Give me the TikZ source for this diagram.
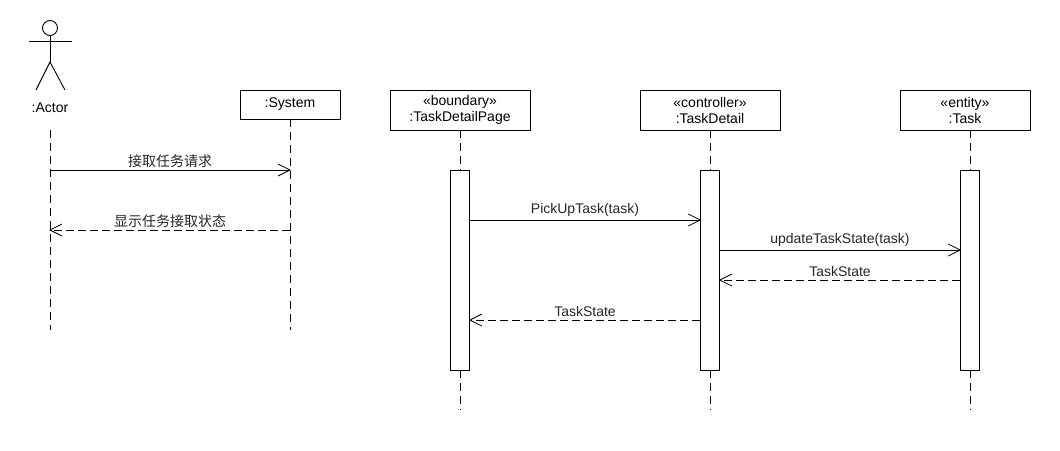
\documentclass[tikz,border=0pt]{standalone}
\usepackage{fontspec}
\setmainfont{Liberation Sans}
\newfontfamily\cjk{Noto Sans CJK SC}
\usetikzlibrary{arrows.meta}
\tikzset{
    objbox/.style={draw=black,fill=white,line width=0.9pt,align=center,font=\fontsize{14}{16}\selectfont,inner sep=0pt,minimum height=#1},
    objbox/.default=40pt,
    actbox/.style={draw=black,fill=white,line width=0.9pt,minimum width=19pt,minimum height=200pt,inner sep=0pt},
    lifeline/.style={line width=0.8pt,dash pattern=on 8pt off 5pt},
    callmsg/.style={line width=0.9pt,shorten >=-1pt,-{Straight Barb[length=12pt,width=12pt,line width=0.8pt]}},
    backmsg/.style={line width=0.9pt,shorten >=-1pt,dash pattern=on 8pt off 4pt,-{Straight Barb[length=12pt,width=12pt,line width=0.8pt]}},
    msgtext/.style={font=\fontsize{14}{16}\selectfont,text=black!85,inner sep=0pt},
}
\begin{document}
\begin{tikzpicture}[x=1pt,y=-1pt]
    \useasboundingbox (0,0) rectangle (1060,450);
    % actor
    \node[draw=black,circle,line width=0.9pt,minimum size=15pt,inner sep=0pt] (head) at (50,28) {};
    \coordinate (hip) at (50,62);
    \coordinate (armL) at (29,41);
    \coordinate (armR) at (72,41);
    \coordinate (footL) at (36,90);
    \coordinate (footR) at (65,90);
    \draw[line width=0.9pt] (head) -- (hip);
    \draw[line width=0.9pt] (armL) -- (armR);
    \draw[line width=0.9pt] (footL) -- (hip) -- (footR);
    \node[font=\fontsize{14}{16}\selectfont,inner sep=0pt] (actor) at (50,108) {:Actor};
    % objects
    \node[objbox=29pt,minimum width=100pt] (system) at (290,104.5) {:System};
    \node[objbox,minimum width=140pt] (page) at (460,110) {«boundary»\\:TaskDetailPage};
    \node[objbox,minimum width=140pt] (detail) at (710,110) {«controller»\\:TaskDetail};
    \node[objbox,minimum width=130pt] (task) at (965,110) {«entity»\\:Task};
    % activations
    \node[actbox] (pageact) at (460,270) {};
    \node[actbox] (detailact) at (710,270) {};
    \node[actbox] (taskact) at (970,270) {};
    % lifelines
    \coordinate (actorstart) at (50,130);
    \coordinate (actorend) at (50,330);
    \coordinate (sysend) at (290,330);
    \coordinate (pageend) at (460,410);
    \coordinate (detailend) at (710,410);
    \coordinate (taskend) at (970,410);
    \coordinate (tasktop) at (970,130);
    \draw[lifeline] (actorstart) -- (actorend);
    \draw[lifeline] (system) -- (sysend);
    \draw[lifeline] (page) -- (pageact);
    \draw[lifeline] (pageact) -- (pageend);
    \draw[lifeline] (detail) -- (detailact);
    \draw[lifeline] (detailact) -- (detailend);
    \draw[lifeline] (tasktop) -- (taskact);
    \draw[lifeline] (taskact) -- (taskend);
    % message ends
    \coordinate (m1a) at (50,170);
    \coordinate (m1b) at (290,170);
    \coordinate (m2a) at (290,230);
    \coordinate (m2b) at (50,230);
    \coordinate (m3a) at (pageact.east |- 0,220);
    \coordinate (m3b) at (detailact.west |- 0,220);
    \coordinate (m4a) at (detailact.east |- 0,250);
    \coordinate (m4b) at (taskact.west |- 0,250);
    \coordinate (m5a) at (taskact.west |- 0,280);
    \coordinate (m5b) at (detailact.east |- 0,280);
    \coordinate (m6a) at (detailact.west |- 0,320);
    \coordinate (m6b) at (pageact.east |- 0,320);
    % messages
    \draw[callmsg] (m1a) -- node[msgtext,above=2pt] (m1t) {\cjk 接取任务请求} (m1b);
    \draw[backmsg] (m2a) -- node[msgtext,above=2pt] (m2t) {\cjk 显示任务接取状态} (m2b);
    \draw[callmsg] (m3a) -- node[msgtext,above=3pt] (m3t) {PickUpTask(task)} (m3b);
    \draw[callmsg] (m4a) -- node[msgtext,above=3pt] (m4t) {updateTaskState(task)} (m4b);
    \draw[backmsg] (m5a) -- node[msgtext,above=3pt] (m5t) {TaskState} (m5b);
    \draw[backmsg] (m6a) -- node[msgtext,above=3pt] (m6t) {TaskState} (m6b);
\end{tikzpicture}
\end{document}
